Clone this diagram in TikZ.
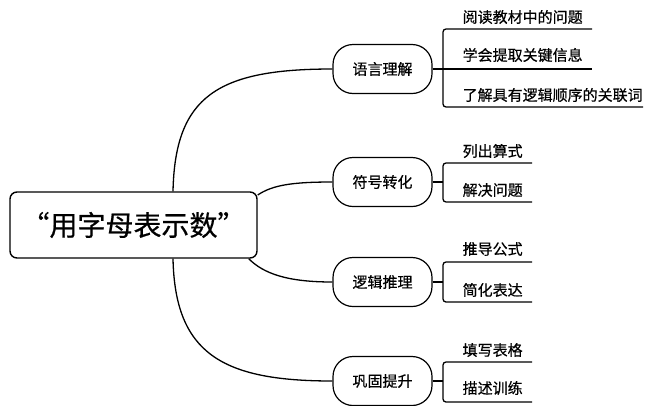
\documentclass[tikz,border=0pt]{standalone}
\usepackage{fontspec}
\setmainfont{Noto Sans CJK SC}[FakeBold=0.6,BoldFont=Noto Sans CJK SC]
\usepackage{tikz}
\usetikzlibrary{arrows}

\tikzset{
	topic/.style={draw,line width=1.4pt,rounded corners=7pt,minimum width=247pt,minimum height=66pt,inner sep=0pt,font=\fontsize{28}{32}\selectfont\bfseries},
	branch/.style={draw,line width=1.2pt,rounded corners=20pt,minimum width=99pt,minimum height=49pt,inner sep=0pt,font=\fontsize{15}{18}\selectfont\bfseries},
	leaf/.style={anchor=west,inner sep=0pt,font=\fontsize{15}{18}\selectfont\bfseries},
}

\begin{document}
\begin{tikzpicture}[x=1pt,y=-1pt,line width=1.3pt]
		\useasboundingbox (0,0) rectangle (645,405);
		\node[topic] (main) at (133.5,225) {“用字母表示数”};
		\node[branch] (n1) at (382.5,69) {语言理解};
		\node[branch] (n2) at (382.5,182) {符号转化};
		\node[branch] (n3) at (382.5,282) {逻辑推理};
		\node[branch] (n4) at (382.5,381) {巩固提升};
		\draw ([xshift=39.5pt]main.north) .. controls +(2,-95) and +(-115,0) .. (n1.west);
		\draw ([yshift=30pt]main.east) .. controls +(15,-10) and +(-40,0) .. (n2.west);
		\draw ([xshift=-9pt]main.south east) .. controls +(15,15) and +(-45,0) .. (n3.west);
		\draw ([xshift=39.5pt]main.south) .. controls +(2,95) and +(-110,0) .. (n4.west);
		\node[leaf] (l11) at (462,17) {阅读教材中的问题};
		\node[leaf] (l12) at (462,55) {学会提取关键信息};
		\node[leaf] (l13) at (462,95) {了解具有逻辑顺序的关联词};
		\coordinate (k1) at (443,69);
		\coordinate (e11) at (592,29);
		\coordinate (e12) at (592,69);
		\coordinate (e13) at (643,107);
		\draw[rounded corners=3pt] (e11) -| (k1) |- (e13);
		\draw (n1.east) -- (e12);
		\node[leaf] (l21) at (462,151) {列出算式};
		\node[leaf] (l22) at (462,190) {解决问题};
		\coordinate (k2) at (443,182);
		\coordinate (e21) at (532,163);
		\coordinate (e22) at (532,202);
		\draw[rounded corners=3pt] (e21) -| (k2) |- (e22);
		\draw (n2.east) -- (k2);
		\node[leaf] (l31) at (462,249) {推导公式};
		\node[leaf] (l32) at (462,290) {简化表达};
		\coordinate (k3) at (443,282);
		\coordinate (e31) at (532,262);
		\coordinate (e32) at (532,302);
		\draw[rounded corners=3pt] (e31) -| (k3) |- (e32);
		\draw (n3.east) -- (k3);
		\node[leaf] (l41) at (462,350) {填写表格};
		\node[leaf] (l42) at (462,388) {描述训练};
		\coordinate (k4) at (443,381);
		\coordinate (e41) at (532,362);
		\coordinate (e42) at (532,402);
		\draw[rounded corners=3pt] (e41) -| (k4) |- (e42);
		\draw (n4.east) -- (k4);
	\end{tikzpicture}
\end{document}
